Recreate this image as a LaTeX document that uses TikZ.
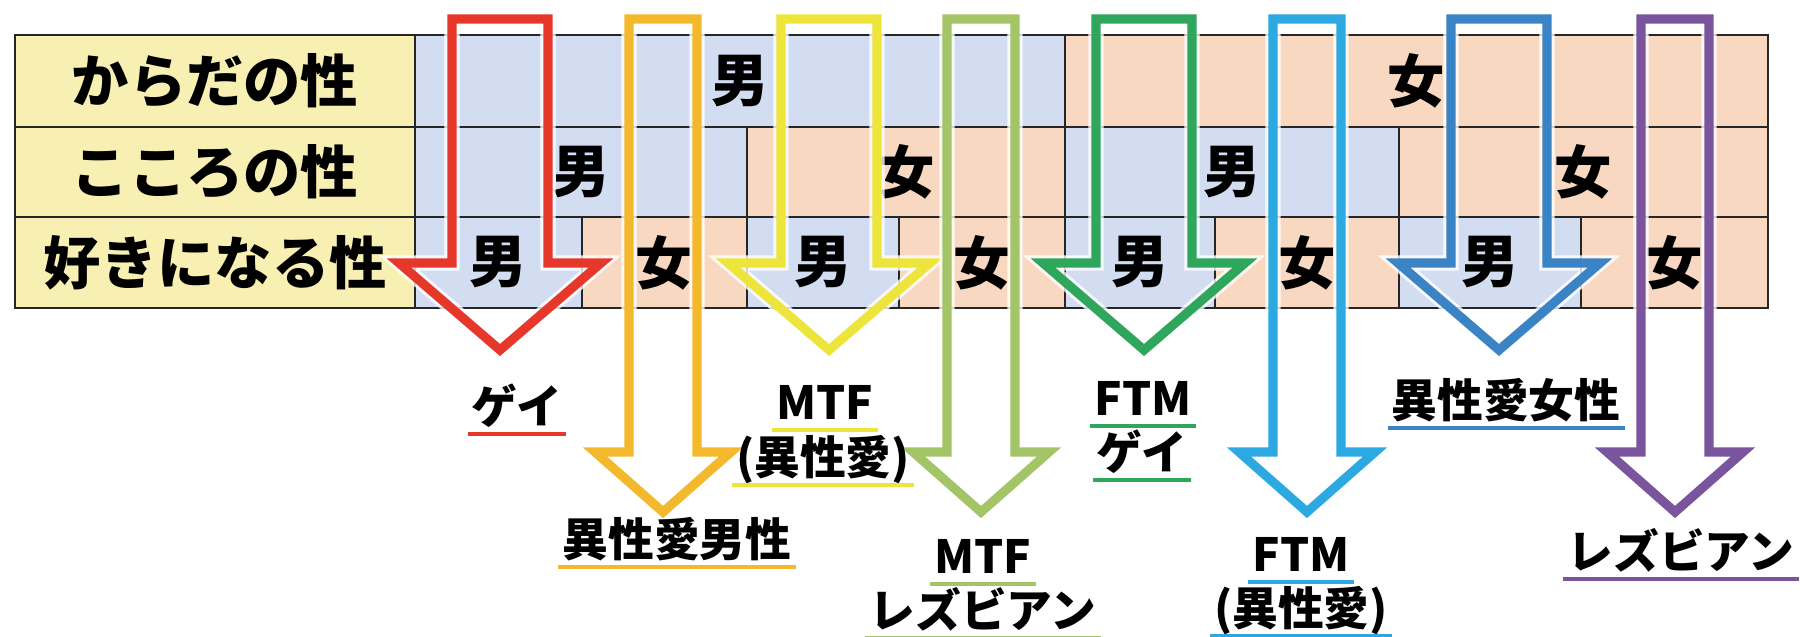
\documentclass[tikz,border=0pt]{standalone}
\usepackage{fontspec}
\setmainfont{Noto Sans CJK JP}
\usepackage{tikz}
\usetikzlibrary{calc, positioning}
\definecolor{cellblue}{HTML}{D2DDF1}
\definecolor{cellpeach}{HTML}{F9D8C1}
\definecolor{cellyellow}{HTML}{F7F0B2}
\definecolor{gayred}{HTML}{E6372B}
\definecolor{hetorange}{HTML}{F4B82C}
\definecolor{mtfyellow}{HTML}{EDE53B}
\definecolor{mtfgreen}{HTML}{A3C567}
\definecolor{ftmgreen}{HTML}{2EA65B}
\definecolor{ftmcyan}{HTML}{2CA9E1}
\definecolor{hetblue}{HTML}{3A84C6}
\definecolor{lespurple}{HTML}{7A559E}
\tikzset{
    tableline/.style={draw=black!85, line width=0.6pt},
    celltext/.style={font=\fontsize{16.3}{18}\selectfont\bfseries, inner sep=0pt},
    halo/.style={draw=white, opacity=0.8, line width=4.3pt, line join=miter},
    arrowline/.style={line width=2.6pt, line join=miter},
    typetag/.style={font=\fontsize{13}{15}\selectfont\bfseries, inner xsep=1pt, inner ysep=1pt, text height=11.3pt, text depth=1.7pt},
    tagline/.style={line width=1.2pt}
}
\newcommand{\tablecell}[7]{
    \draw[tableline, fill=#6] (#2, #3) rectangle (#4, #5);
    \node[celltext] (#1) at ($(#2, #3)!0.5!(#4, #5)$) {#7};
}
\newcommand{\arrowpath}[5]{
    ({#1-#2}, 19) -- ({#1+#2}, 19) -- ({#1+#2}, #3) -- ({#1+#4}, #3) -- (#1, #5) -- ({#1-#4}, #3) -- ({#1-#2}, #3) -- cycle
}
\newcommand{\typearrow}[7]{
    \coordinate (#1-top) at (#2, 19);
    \coordinate (#1-tip) at (#2, #6);
    \draw[halo] \arrowpath{#2}{#3}{#4}{#5}{#6};
    \draw[arrowline, draw=#7] \arrowpath{#2}{#3}{#4}{#5}{#6};
}
\newcommand{\typelabel}[4]{
    \node[typetag] (#1) at (#2) {#4};
    \draw[tagline, draw=#3] (#1.south west) -- (#1.south east);
}
\begin{document}
\begin{tikzpicture}[x=0.01cm, y=-0.01cm]
                        \useasboundingbox (0, 0) rectangle (1800, 637);
                        \tablecell{body-l}{15}{35}{415}{127}{cellyellow}{からだの性}
                        \tablecell{body-m}{415}{35}{1065}{127}{cellblue}{男}
                        \tablecell{body-f}{1065}{35}{1768}{127}{cellpeach}{女}
                        \tablecell{mind-l}{15}{127}{415}{217}{cellyellow}{こころの性}
                        \tablecell{mind-m1}{415}{127}{747}{217}{cellblue}{男}
                        \tablecell{mind-f1}{747}{127}{1065}{217}{cellpeach}{女}
                        \tablecell{mind-m2}{1065}{127}{1399}{217}{cellblue}{男}
                        \tablecell{mind-f2}{1399}{127}{1768}{217}{cellpeach}{女}
                        \tablecell{love-l}{15}{217}{415}{308}{cellyellow}{好きになる性}
                        \tablecell{love-1}{415}{217}{582}{308}{cellblue}{男}
                        \tablecell{love-2}{582}{217}{747}{308}{cellpeach}{女}
                        \tablecell{love-3}{747}{217}{899}{308}{cellblue}{男}
                        \tablecell{love-4}{899}{217}{1065}{308}{cellpeach}{女}
                        \tablecell{love-5}{1065}{217}{1215}{308}{cellblue}{男}
                        \tablecell{love-6}{1215}{217}{1399}{308}{cellpeach}{女}
                        \tablecell{love-7}{1399}{217}{1581}{308}{cellblue}{男}
                        \tablecell{love-8}{1581}{217}{1768}{308}{cellpeach}{女}
                        \typearrow{gay}{500}{48}{263}{101}{350}{gayred}
                        \typearrow{hetm}{663}{34}{452}{68}{512}{hetorange}
                        \typearrow{mtfa}{829}{48}{263}{101}{350}{mtfyellow}
                        \typearrow{mtfb}{981}{34}{452}{68}{512}{mtfgreen}
                        \typearrow{ftma}{1144}{48}{263}{101}{350}{ftmgreen}
                        \typearrow{ftmb}{1307}{34}{452}{68}{512}{ftmcyan}
                        \typearrow{hetf}{1499}{48}{263}{101}{350}{hetblue}
                        \typearrow{les}{1675}{34}{452}{68}{512}{lespurple}
                        \typelabel{gay-t}{517, 407}{gayred}{ゲイ}
                        \typelabel{hetm-t}{677, 540}{hetorange}{異性愛男性}
                        \typelabel{mtfa-t}{825, 403}{mtfyellow}{MTF}
                        \typelabel{mtfa-b}{823, 458}{mtfyellow}{(異性愛)}
                        \typelabel{mtfb-t}{983, 557}{mtfgreen}{MTF}
                        \typelabel{mtfb-b}{983, 611}{mtfgreen}{レズビアン}
                        \typelabel{ftma-t}{1143, 399}{ftmgreen}{FTM}
                        \typelabel{ftma-b}{1142, 453}{ftmgreen}{ゲイ}
                        \typelabel{ftmb-t}{1301, 555}{ftmcyan}{FTM}
                        \typelabel{ftmb-b}{1301, 609}{ftmcyan}{(異性愛)}
                        \typelabel{hetf-t}{1506, 401}{hetblue}{異性愛女性}
                        \typelabel{les-t}{1681, 552}{lespurple}{レズビアン}
                    \end{tikzpicture}
\end{document}
